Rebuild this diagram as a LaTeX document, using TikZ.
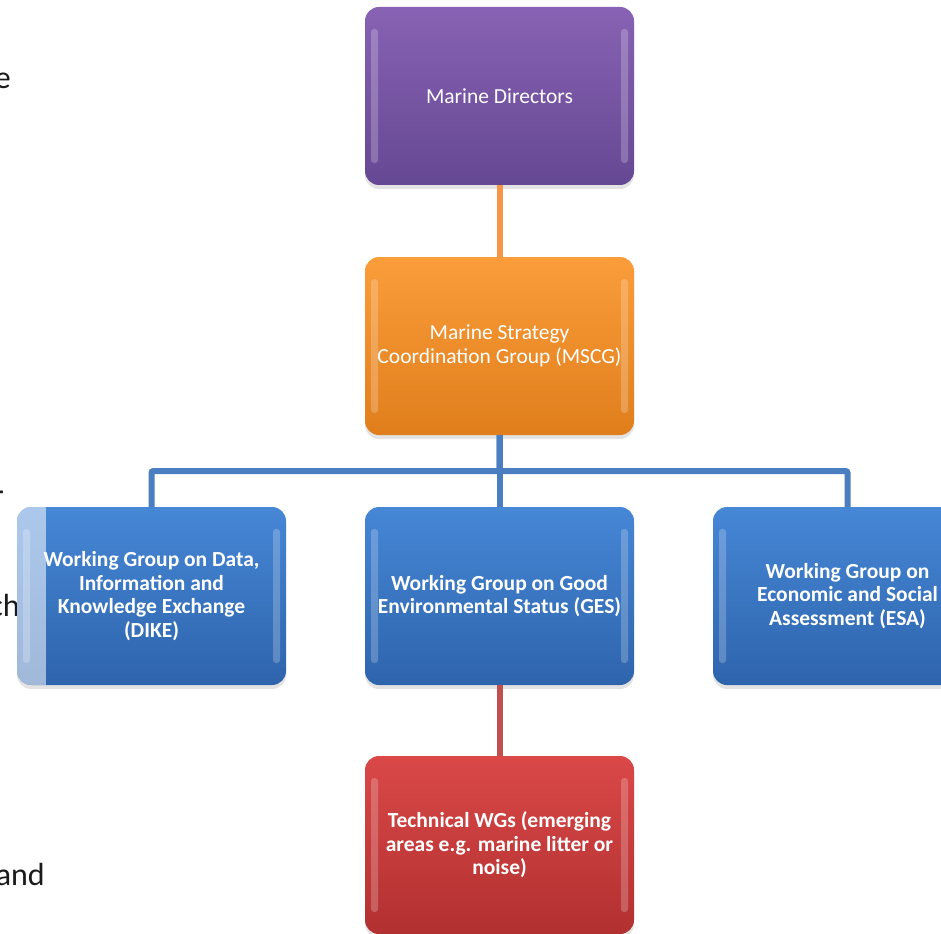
\documentclass[tikz,border=0pt]{standalone}
\usepackage{fontspec}
\setmainfont{Carlito}
\usepackage{xcolor}
\usepackage{tikz}
\usetikzlibrary{positioning,shadows}
\definecolor{moPurpleTop}{HTML}{8862B4}
\definecolor{moPurpleBot}{HTML}{654893}
\definecolor{moOrangeTop}{HTML}{FA9D3A}
\definecolor{moOrangeBot}{HTML}{E07E1C}
\definecolor{moBlueTop}{HTML}{4687D6}
\definecolor{moBlueBot}{HTML}{2E64AC}
\definecolor{moRedTop}{HTML}{DA4848}
\definecolor{moRedBot}{HTML}{B23030}
\definecolor{moOrangeLine}{HTML}{F79646}
\definecolor{moBlueLine}{HTML}{4A7EC0}
\definecolor{moRedLine}{HTML}{C0504D}
\definecolor{moInk}{HTML}{1A1A1A}
\tikzset{
  mo box/.style={rounded corners=14pt, minimum width=269pt, minimum height=178pt,
    inner sep=2pt, outer sep=0pt, align=center, text=white,
    font=\fontsize{21.5}{24}\selectfont,
    drop shadow={shadow xshift=0pt, shadow yshift=-4pt, opacity=0.22},
    path picture={
      \fill[white,opacity=0.22,rounded corners=3pt]
        ([xshift=6pt,yshift=-22pt]path picture bounding box.north west) rectangle
        ([xshift=13pt,yshift=22pt]path picture bounding box.south west);
      \fill[white,opacity=0.22,rounded corners=3pt]
        ([xshift=-6pt,yshift=-22pt]path picture bounding box.north east) rectangle
        ([xshift=-13pt,yshift=22pt]path picture bounding box.south east);
    }},
  mo purple/.style={mo box, top color=moPurpleTop, bottom color=moPurpleBot},
  mo orange/.style={mo box, top color=moOrangeTop, bottom color=moOrangeBot},
  mo blue/.style={mo box, top color=moBlueTop, bottom color=moBlueBot,
    font=\fontsize{21.5}{23.5}\selectfont\bfseries},
  mo red/.style={mo box, top color=moRedTop, bottom color=moRedBot,
    font=\fontsize{21.5}{23.5}\selectfont\bfseries},
  mo link/.style={line width=6pt},
  mo stray/.style={text=moInk, inner sep=0pt, anchor=base east,
    font=\fontsize{32}{38}\selectfont}
}

\begin{document}
\begin{tikzpicture}[x=1pt,y=-1pt]
\useasboundingbox (0,0) rectangle (941,933);
\clip (0,0) rectangle (941,933);
% text of the page behind the chart
\node[mo stray] (pageE) at (11,89) {e};
\node[mo stray] (pageR) at (4,506) {r};
\node[mo stray] (pageCh) at (20,616) {ch};
\node[mo stray] (pageAnd) at (45,885) {and};
% boxes
\node[mo purple] (md) at (499.5,96) {Marine Directors};
\node[mo orange,below=72pt of md] (mscg) {Marine Strategy\\Coordination Group (MSCG)};
\node[mo blue,below=72pt of mscg] (ges) {Working Group on Good\\Environmental Status (GES)};
\node[mo blue,left=79pt of ges] (dike) {Working Group on Data,\\Information and\\Knowledge Exchange\\(DIKE)};
\node[mo blue,right=79pt of ges] (esa) {Working Group on\\Economic and Social\\Assessment (ESA)};
\node[mo red,below=71pt of ges] (tech) {Technical WGs (emerging\\areas e.g. marine litter or\\noise)};
% connectors
\draw[mo link,moOrangeLine] (md) -- (mscg);
\draw[mo link,moBlueLine,rounded corners=2pt] (mscg.south) -- ++(0,36) -| (dike.north);
\draw[mo link,moBlueLine,rounded corners=2pt] (mscg.south) -- ++(0,36) -| (esa.north);
\draw[mo link,moBlueLine] (mscg) -- (ges);
\draw[mo link,moRedLine] (ges) -- (tech);
% washed strip on the left of DIKE
\begin{scope}
\clip[rounded corners=14pt] (dike.north west) rectangle (dike.south east);
\fill[white,opacity=0.55] (dike.north west) rectangle ([xshift=29pt]dike.south west);
\end{scope}
\end{tikzpicture}
\end{document}
